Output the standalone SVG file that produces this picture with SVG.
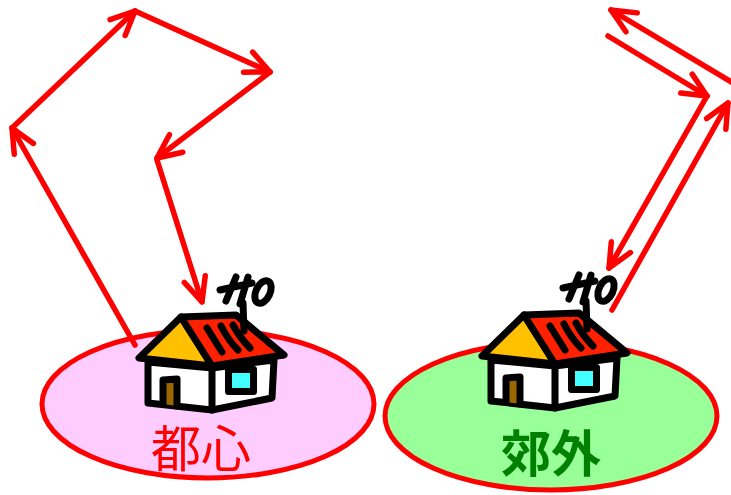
<svg xmlns="http://www.w3.org/2000/svg" width="731" height="495" viewBox="0 0 731 495">
  <style>
    .area { stroke: #FF0000; stroke-width: 5; }
    .ray { fill: none; stroke: #FF0000; stroke-width: 5.5; stroke-linecap: round; }
    .ink { stroke: #000000; stroke-width: 7; stroke-linejoin: round; stroke-linecap: round; }
    .label { font-family: "Noto Sans CJK JP", "Noto Sans CJK SC", sans-serif; font-size: 50px; text-anchor: middle; }
  </style>
  <defs>
    <marker id="head" markerUnits="userSpaceOnUse" orient="auto" overflow="visible" markerWidth="30" markerHeight="30" refX="0" refY="0">
      <path d="M -24 -11 L 0 0 L -24 11" fill="none" stroke="#FF0000" stroke-width="5.5" stroke-linecap="round" stroke-linejoin="round"/>
    </marker>
    <!-- house drawn once, placed twice -->
    <g id="house-shape">
      <polygon class="ink" fill="#FFFFFF" points="148,362 212,368 274,360 272,398 212,410 148,403"/>
      <line class="ink" x1="212" y1="368" x2="212" y2="410"/>
      <path class="ink" fill="#996600" stroke-width="6" d="M 163 404 L 163 380 L 177 379 L 177 406"/>
      <rect class="ink" fill="#44FFFF" x="228.5" y="369.5" width="25" height="22"/>
      <polygon class="ink" fill="#FFC000" points="181,317 139,358 212,366"/>
      <polygon class="ink" fill="#FF2000" points="181,317 236,315 284,355 212,366"/>
      <path class="ink" fill="none" stroke-width="6.5" d="M 207 328 L 222 352 M 221 326 Q 228 340 238 350 M 233 325 Q 240 338 250 348"/>
      <!-- antenna -->
      <path class="ink" fill="none" stroke-width="5" d="M 244 331 L 243 303 M 236 277 L 226 301 M 248 277 L 240 304 M 220 290 L 252 283"/>
      <ellipse class="ink" fill="none" stroke-width="5" cx="263" cy="292" rx="7" ry="12" transform="rotate(25 263 292)"/>
    </g>
  </defs>

  <g id="downtown-area">
    <ellipse class="area" fill="#FFCCFF" cx="208" cy="404" rx="166" ry="74"/>
    <text class="label" x="201" y="467" fill="#FF0000">都心</text>
  </g>

  <g id="suburb-area">
    <ellipse class="area" fill="#99FF99" cx="551" cy="416" rx="166" ry="74"/>
    <text class="label" x="551" y="472" fill="#008000" font-weight="bold">郊外</text>
  </g>

  <g id="connectors">
    <!-- downtown: signal bouncing between buildings -->
    <line class="ray" x1="135" y1="345" x2="12" y2="128" marker-end="url(#head)"/>
    <line class="ray" x1="12" y1="128" x2="135" y2="11" marker-end="url(#head)"/>
    <line class="ray" x1="135" y1="11" x2="270" y2="72" marker-end="url(#head)"/>
    <line class="ray" x1="270" y1="72" x2="157" y2="158" marker-end="url(#head)"/>
    <line class="ray" x1="157" y1="160" x2="202" y2="302" marker-end="url(#head)"/>
    <!-- suburb: direct and reflected paths -->
    <line class="ray" x1="608" y1="36" x2="707" y2="96" marker-end="url(#head)"/>
    <line class="ray" x1="707" y1="96" x2="609" y2="268" marker-end="url(#head)"/>
    <line class="ray" x1="612" y1="310" x2="728" y2="103" marker-end="url(#head)"/>
    <line class="ray" x1="733" y1="83" x2="611" y2="10" marker-end="url(#head)"/>
  </g>

  <g id="house-downtown">
    <use href="#house-shape"/>
  </g>

  <g id="house-suburb">
    <use href="#house-shape" transform="translate(343,-2)"/>
  </g>
</svg>
